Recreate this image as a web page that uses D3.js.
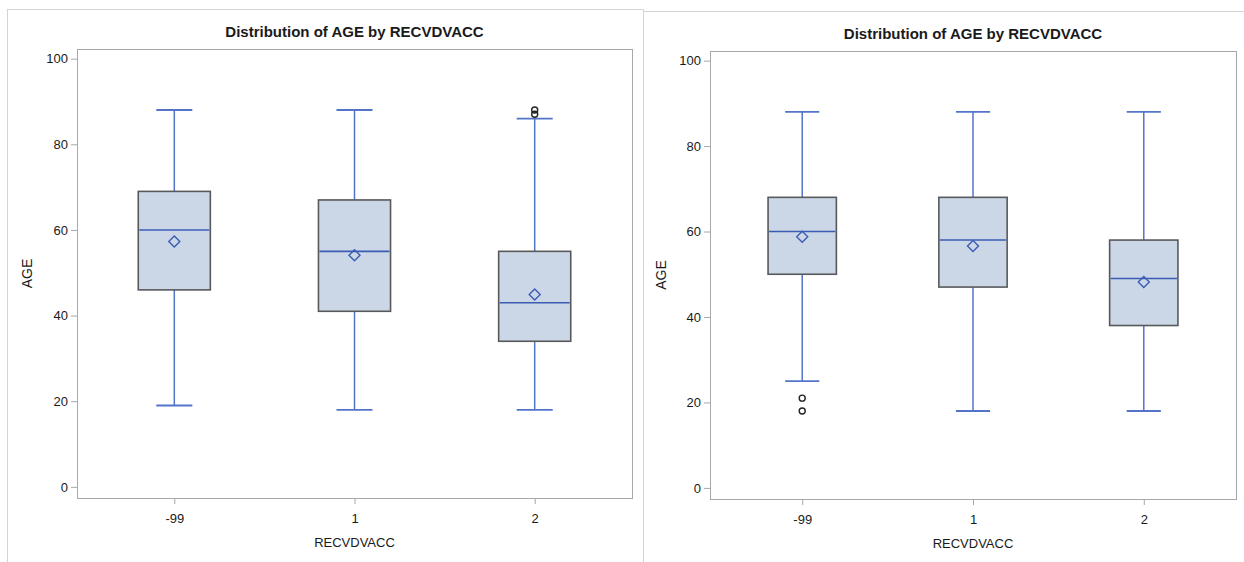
<!DOCTYPE html>
<html>
<head>
<meta charset="utf-8">
<script src="https://cdn.jsdelivr.net/npm/d3@7"></script>
<style>
  html, body { margin: 0; padding: 0; background: #fff; }
  svg { display: block; }
  text { font-family: "Liberation Sans", Arial, sans-serif; fill: #1a1a1a; }
</style>
</head>
<body>
<svg id="chart" width="1244" height="562"></svg>
<script>
// Categories of RECVDVACC and the AGE axis ticks
const categories = ["-99", "1", "2"];
const yTicks = [0, 20, 40, 60, 80, 100];
const chartTitle = "Distribution of AGE by RECVDVACC";

// Left panel: five-number summaries, means and outliers per category
const leftMin    = [19, 18, 18];
const leftQ1     = [46, 41, 34];
const leftMedian = [60, 55, 43];
const leftQ3     = [69, 67, 55];
const leftMax    = [88, 88, 86];
const leftMean   = [57.3, 54.1, 44.9];
const leftOutliers = [[], [], [87, 88]];

// Right panel
const rightMin    = [25, 18, 18];
const rightQ1     = [50, 47, 38];
const rightMedian = [60, 58, 49];
const rightQ3     = [68, 68, 58];
const rightMax    = [88, 88, 88];
const rightMean   = [58.8, 56.6, 48.2];
const rightOutliers = [[18, 21], [], []];

const COLORS = {
  boxFill: "#cbd6e6",
  boxEdge: "#58595b",
  whisker: "#5374c8",
  median: "#3c5cb4",
  frame: "#a5a9ae",
  outer: "#d2d4d6",
  outlier: "#222"
};

const svg = d3.select("#chart");

function buildRows(min, q1, med, q3, max, mean, outs) {
  return categories.map((c, i) => ({
    cat: c, min: min[i], q1: q1[i], med: med[i], q3: q3[i], max: max[i],
    mean: mean[i], outliers: outs[i]
  }));
}

function drawPanel(cfg) {
  const { outer, frame, rows, titleY } = cfg;

  // panel border
  svg.append("rect")
    .attr("x", outer.x + 0.5).attr("y", outer.y + 0.5)
    .attr("width", outer.w).attr("height", outer.h)
    .attr("fill", "none").attr("stroke", COLORS.outer);

  const g = svg.append("g");

  const x = d3.scalePoint()
    .domain(categories)
    .range([frame.x0, frame.x1])
    .padding(0.54);
  const step = x.step();

  const y = d3.scaleLinear()
    .domain([-2.6, 102.25])
    .range([frame.y1, frame.y0]);

  // title
  g.append("text")
    .attr("x", (frame.x0 + frame.x1) / 2)
    .attr("y", titleY)
    .attr("text-anchor", "middle")
    .attr("font-size", 15)
    .attr("font-weight", "bold")
    .text(chartTitle);

  // y axis
  const yAxis = g.append("g")
    .attr("transform", `translate(${frame.x0},0)`)
    .call(d3.axisLeft(y).tickValues(yTicks).tickSize(6).tickSizeOuter(0).tickPadding(3));
  yAxis.select(".domain").remove();
  yAxis.selectAll(".tick line").attr("stroke", COLORS.frame);
  yAxis.selectAll(".tick text").attr("font-size", 13).attr("fill", "#111")
    .attr("font-family", "'Liberation Sans', Arial, sans-serif");

  // x axis
  const xAxis = g.append("g")
    .attr("transform", `translate(0,${frame.y1})`)
    .call(d3.axisBottom(x).tickSize(6).tickSizeOuter(0).tickPadding(10));
  xAxis.select(".domain").remove();
  xAxis.selectAll(".tick line").attr("stroke", COLORS.frame);
  xAxis.selectAll(".tick text").attr("font-size", 13).attr("fill", "#111")
    .attr("font-family", "'Liberation Sans', Arial, sans-serif");

  // axis titles
  g.append("text")
    .attr("x", (frame.x0 + frame.x1) / 2)
    .attr("y", frame.y1 + 49)
    .attr("text-anchor", "middle")
    .attr("font-size", 13)
    .text("RECVDVACC");

  g.append("text")
    .attr("transform", `translate(${cfg.yLabelX},${(frame.y0 + frame.y1) / 2}) rotate(-90)`)
    .attr("text-anchor", "middle")
    .attr("font-size", 14)
    .text("AGE");

  // plot frame
  g.append("rect")
    .attr("x", frame.x0 + 0.5).attr("y", frame.y0 + 0.5)
    .attr("width", frame.x1 - frame.x0).attr("height", frame.y1 - frame.y0)
    .attr("fill", "none").attr("stroke", COLORS.frame);

  const boxW = step * 0.4;
  const capW = step * 0.2;

  const box = g.selectAll("g.box").data(rows).join("g").attr("class", "box");

  // whiskers
  box.append("line")
    .attr("x1", d => x(d.cat)).attr("x2", d => x(d.cat))
    .attr("y1", d => y(d.q3)).attr("y2", d => y(d.max))
    .attr("stroke", COLORS.whisker).attr("stroke-width", 1.5);
  box.append("line")
    .attr("x1", d => x(d.cat)).attr("x2", d => x(d.cat))
    .attr("y1", d => y(d.q1)).attr("y2", d => y(d.min))
    .attr("stroke", COLORS.whisker).attr("stroke-width", 1.5);
  // caps
  box.append("line")
    .attr("x1", d => x(d.cat) - capW / 2).attr("x2", d => x(d.cat) + capW / 2)
    .attr("y1", d => y(d.max)).attr("y2", d => y(d.max))
    .attr("stroke", COLORS.whisker).attr("stroke-width", 1.8);
  box.append("line")
    .attr("x1", d => x(d.cat) - capW / 2).attr("x2", d => x(d.cat) + capW / 2)
    .attr("y1", d => y(d.min)).attr("y2", d => y(d.min))
    .attr("stroke", COLORS.whisker).attr("stroke-width", 1.8);

  // interquartile box
  box.append("rect")
    .attr("x", d => x(d.cat) - boxW / 2)
    .attr("y", d => y(d.q3))
    .attr("width", boxW)
    .attr("height", d => y(d.q1) - y(d.q3))
    .attr("fill", COLORS.boxFill)
    .attr("stroke", COLORS.boxEdge).attr("stroke-width", 1.6);

  // median
  box.append("line")
    .attr("x1", d => x(d.cat) - boxW / 2 + 1).attr("x2", d => x(d.cat) + boxW / 2 - 1)
    .attr("y1", d => y(d.med)).attr("y2", d => y(d.med))
    .attr("stroke", COLORS.median).attr("stroke-width", 1.6);

  // mean marker
  const dr = 5.5;
  box.append("path")
    .attr("d", d => {
      const cx = x(d.cat), cy = y(d.mean);
      return `M${cx},${cy - dr}L${cx + dr},${cy}L${cx},${cy + dr}L${cx - dr},${cy}Z`;
    })
    .attr("fill", "none").attr("stroke", COLORS.median).attr("stroke-width", 1.4);

  // outliers
  box.selectAll("circle")
    .data(d => d.outliers.map(v => ({ cat: d.cat, v })))
    .join("circle")
    .attr("cx", d => x(d.cat)).attr("cy", d => y(d.v))
    .attr("r", 3)
    .attr("fill", "none").attr("stroke", COLORS.outlier).attr("stroke-width", 1.4);
}

drawPanel({
  outer: { x: 7, y: 9, w: 636, h: 560 },
  frame: { x0: 77, x1: 632, y0: 49, y1: 498 },
  titleY: 37,
  yLabelX: 32,
  rows: buildRows(leftMin, leftQ1, leftMedian, leftQ3, leftMax, leftMean, leftOutliers)
});

drawPanel({
  outer: { x: 643, y: 11, w: 610, h: 560 },
  frame: { x0: 710, x1: 1236, y0: 51, y1: 499 },
  titleY: 39,
  yLabelX: 666,
  rows: buildRows(rightMin, rightQ1, rightMedian, rightQ3, rightMax, rightMean, rightOutliers)
});
</script>
</body>
</html>
